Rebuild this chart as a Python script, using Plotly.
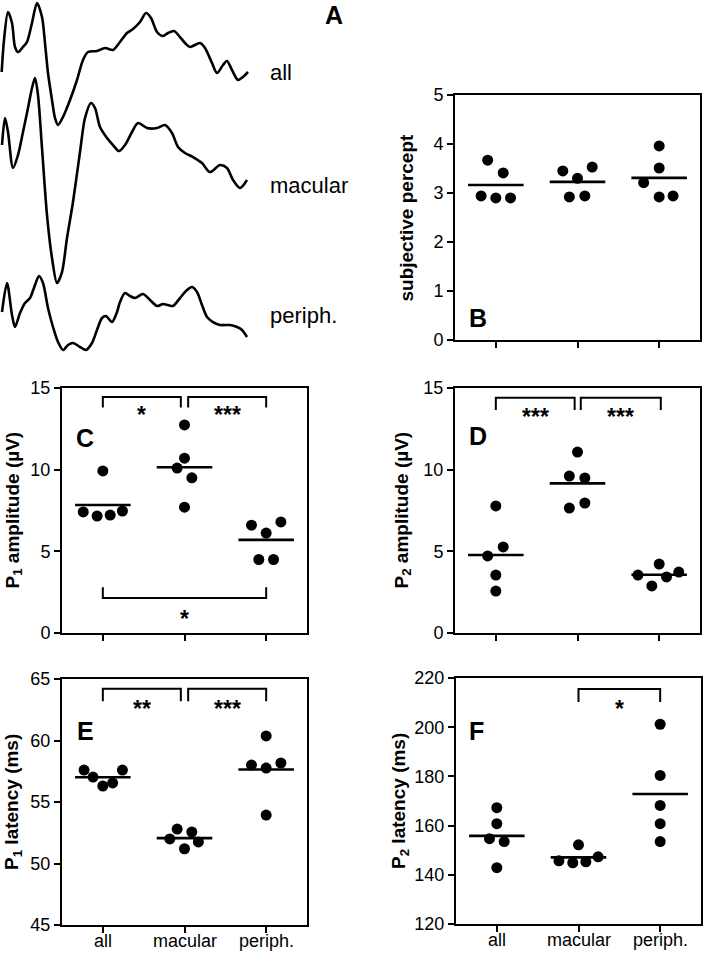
import numpy as np
import plotly.graph_objects as go

W, H = 703, 954
FONT = "Liberation Sans, Arial, sans-serif"

# ---------------- Panel A: averaged waveforms (time in ms, amplitude in µV) ----------------
all_t = [2.7, 6.4, 12.8, 19.2, 24, 28.8, 36.8, 43.2, 51.2, 59.2, 67.2, 72, 76.8, 83.2, 88, 92.8,
         100.8, 112, 123.2, 132.8, 140.8, 155.2, 168, 180.8, 192, 203.2, 212.8, 224, 233.6, 241.6,
         251.2, 260.8, 268.8, 278.4, 288, 296, 304, 320, 328, 339.2, 347.2, 356.8, 363.2, 371.2,
         380.8, 388.8, 396.8]
all_v = [0.0, 5.33, 10.0, 8.17, 4.17, 3.33, 4.17, 5.0, 8.17, 11.5, 9.17, 4.83, -0.17, -4.67, -7.67,
         -8.83, -7.5, -4.67, -1.33, 2.0, 3.33, 3.5, 4.0, 3.67, 5.0, 6.5, 7.17, 8.33, 9.83, 9.0, 6.67,
         6.0, 6.5, 6.83, 5.83, 4.83, 4.17, 4.83, 4.0, 1.5, -0.17, 1.17, 1.83, 0.33, -1.33, -0.83, 0.0]

mac_t = [3.2, 8, 12.8, 20.8, 28.8, 36.8, 44.8, 51.2, 56, 60.8, 67.2, 75.2, 83.2, 91.2, 99.2, 107.2,
         116.8, 128, 136, 145.6, 152, 160, 171.2, 180.8, 190.4, 200, 211.2, 220.8, 235.2, 251.2, 264,
         275.2, 284.8, 296, 308.8, 323.2, 336, 352, 363.2, 372.8, 384, 395.2]
mac_v = [0.0, 4.5, 2.17, -3.83, -1.67, 2.17, 6.17, 9.5, 11.17, 8.33, -0.5, -11.67, -18.83, -23.0,
         -21.17, -15.5, -9.5, -1.17, 4.5, 7.0, 6.17, 3.0, 1.17, 0.0, -1.0, 0.0, 2.17, 3.67, 2.83, 2.83,
         3.33, 2.0, -0.33, -1.33, -2.0, -3.0, -4.5, -3.33, -3.83, -5.83, -7.17, -5.83]

per_t = [3.2, 11.2, 19.2, 24, 32, 40, 48, 56, 62.4, 68.8, 76.8, 84.8, 92.8, 100.8, 108.8, 116.8, 128,
         137.6, 147.2, 155.2, 163.2, 169.6, 179.2, 187.2, 192, 200, 208, 216, 228.8, 240, 251.2,
         260.8, 268.8, 276.8, 288, 299.2, 307.2, 315.2, 323.2, 331.2, 340.8, 352, 368, 379.2, 387.2,
         395.2]
per_v = [0.0, 4.83, -0.5, -2.5, -0.17, 1.5, 2.33, 4.5, 6.0, 4.83, 0.67, -2.5, -5.0, -6.33, -5.5,
         -5.17, -5.83, -6.33, -5.17, -3.0, -1.0, -0.67, -1.67, 0.0, 1.67, 3.17, 2.67, 2.33, 3.0, 2.0,
         1.0, 1.33, 1.17, 1.0, 2.33, 3.67, 4.17, 3.33, 1.17, -0.83, -1.67, -2.17, -2.17, -2.5, -3.0,
         -4.17]

wave_names = ["all", "macular", "periph."]

# ---------------- Panels B–F: individual subjects ----------------
categories = ["all", "macular", "periph."]

percept_all = [3.67, 3.41, 2.94, 2.90, 2.90]
percept_mac = [3.45, 3.30, 3.53, 2.92, 2.94]
percept_per = [3.96, 3.51, 3.21, 2.92, 2.94]

p1amp_all = [9.92, 7.41, 7.16, 7.22, 7.47]
p1amp_mac = [12.74, 10.7, 10.1, 9.5, 7.7]
p1amp_per = [6.6, 6.12, 6.8, 4.5, 4.5]

p2amp_all = [7.78, 5.27, 4.72, 3.55, 2.57]
p2amp_mac = [11.08, 9.61, 9.49, 7.65, 7.96]
p2amp_per = [4.22, 3.55, 3.43, 3.73, 2.88]

p1lat_all = [57.6, 57.03, 56.3, 56.55, 57.6]
p1lat_mac = [52.8, 52.56, 52.0, 51.2, 51.75]
p1lat_per = [60.37, 58.0, 57.76, 58.17, 53.94]

p2lat_all = [167.3, 160.8, 154.7, 153.5, 142.9]
p2lat_mac = [152.2, 145.7, 144.9, 145.3, 147.3]
p2lat_per = [201.2, 180.4, 168.2, 160.8, 153.5]

# horizontal spread of overlapping dots (category units)
spread_B = [[-0.1, 0.09, -0.18, 0, 0.18], [-0.18, 0, 0.18, -0.1, 0.09], [0, 0, -0.19, 0, 0.17]]
spread_C = [[0, -0.24, -0.07, 0.09, 0.24], [0, 0, -0.09, 0.09, 0], [-0.18, 0, 0.18, -0.09, 0.09]]
spread_D = [[0, 0.09, -0.1, 0, 0], [0, -0.1, 0.09, -0.1, 0.09], [0, -0.26, 0.09, 0.24, -0.09]]
spread_E = [[-0.23, -0.12, 0, 0.12, 0.24], [-0.09, 0.09, -0.18, 0, 0.17], [0, -0.18, 0, 0.18, 0]]
spread_F = [[0, 0, -0.09, 0.09, 0], [0, -0.24, -0.07, 0.09, 0.24], [0, 0, 0, 0, 0]]

# significance brackets: (from cat, to cat, bar y, tick end y, label)
sig_C = [(0, 0.955, 14.45, 13.8, "*"), (1.045, 2, 14.45, 13.8, "***"), (0, 2, 2.14, 2.8, "*")]
sig_D = [(0, 0.965, 14.4, 13.65, "***"), (1.04, 2.02, 14.4, 13.65, "***")]
sig_E = [(0, 0.955, 64.2, 63.2, "**"), (1.045, 2, 64.2, 63.2, "***")]
sig_F = [(1, 2, 215.5, 210.2, "*")]

fig = go.Figure()

# ---- helpers for pixel layout ----
def fx(p):
    return p / W

def fy(p):
    return 1 - p / H

# ---- Panel A ----
wave_offsets = [-12, -24.17, -52]
for (t, v), off in zip([(all_t, all_v), (mac_t, mac_v), (per_t, per_v)], wave_offsets):
    fig.add_trace(go.Scatter(x=t, y=[off + a for a in v], mode="lines",
                             line=dict(color="black", width=2.6, shape="spline", smoothing=0.8),
                             xaxis="x", yaxis="y", showlegend=False, hoverinfo="skip",
                             cliponaxis=False))

# ---- dot panels ----
panels = [
    dict(ax=2, data=[percept_all, percept_mac, percept_per], spread=spread_B, sig=[],
         rng=[0, 5], ticks=[0, 1, 2, 3, 4, 5], dom=((455, 700), (95, 340)), xlabels=False,
         title="<b>subjective percept</b>", tx=406, letter="B", lpos=(478, 318)),
    dict(ax=3, data=[p1amp_all, p1amp_mac, p1amp_per], spread=spread_C, sig=sig_C,
         rng=[0, 15], ticks=[0, 5, 10, 15], dom=((62, 307), (388, 633)), xlabels=False,
         title="<b>P<sub>1</sub> amplitude (µV)</b>", tx=13, letter="C", lpos=(85, 438)),
    dict(ax=4, data=[p2amp_all, p2amp_mac, p2amp_per], spread=spread_D, sig=sig_D,
         rng=[0, 15], ticks=[0, 5, 10, 15], dom=((455, 700), (388, 633)), xlabels=False,
         title="<b>P<sub>2</sub> amplitude (µV)</b>", tx=402, letter="D", lpos=(478, 436)),
    dict(ax=5, data=[p1lat_all, p1lat_mac, p1lat_per], spread=spread_E, sig=sig_E,
         rng=[45, 65], ticks=[45, 50, 55, 60, 65], dom=((62, 307), (679, 925)), xlabels=True,
         title="<b>P<sub>1</sub> latency (ms)</b>", tx=13, letter="E", lpos=(85, 731)),
    dict(ax=6, data=[p2lat_all, p2lat_mac, p2lat_per], spread=spread_F, sig=sig_F,
         rng=[120, 220], ticks=[120, 140, 160, 180, 200, 220], dom=((456, 701), (678, 924)),
         xlabels=True, title="<b>P<sub>2</sub> latency (ms)</b>", tx=400, letter="F",
         lpos=(476, 731)),
]

annotations = []
layout_axes = {}

for p in panels:
    n = p["ax"]
    xa, ya = f"x{n}", f"y{n}"
    # dots
    for ci, (vals, spr) in enumerate(zip(p["data"], p["spread"])):
        fig.add_trace(go.Scatter(x=[ci + s for s in spr], y=vals, mode="markers",
                                 marker=dict(color="black", size=11),
                                 xaxis=xa, yaxis=ya, showlegend=False, cliponaxis=False))
    # mean lines
    mx, my = [], []
    for ci, vals in enumerate(p["data"]):
        m = float(np.mean(vals))
        mx += [ci - 0.34, ci + 0.34, None]
        my += [m, m, None]
    fig.add_trace(go.Scatter(x=mx, y=my, mode="lines", line=dict(color="black", width=2.6),
                             xaxis=xa, yaxis=ya, showlegend=False, cliponaxis=False))
    # significance brackets
    for (a, b, yb, yt, lab) in p["sig"]:
        fig.add_trace(go.Scatter(x=[a, a, b, b], y=[yt, yb, yb, yt], mode="lines",
                                 line=dict(color="black", width=2),
                                 xaxis=xa, yaxis=ya, showlegend=False, cliponaxis=False))
        lo, hi = p["rng"]
        span = hi - lo
        if yt < yb:  # bracket opening downward -> label beneath the bar
            ylab = yt - 0.03 * span
        else:
            ylab = yb - 0.085 * span
        annotations.append(dict(x=(a + b) / 2, y=ylab, xref=xa, yref=ya, text=f"<b>{lab}</b>",
                                showarrow=False, font=dict(family=FONT, size=23, color="black"),
                                xanchor="center", yanchor="middle"))
    (x0, x1), (y0, y1) = p["dom"]
    axis_common = dict(showline=True, linewidth=2, linecolor="black", mirror=True,
                       showgrid=False, zeroline=False, ticks="outside", ticklen=6, tickwidth=2,
                       tickcolor="black", automargin=False,
                       tickfont=dict(family=FONT, size=18, color="black"))
    layout_axes[f"xaxis{n}"] = dict(axis_common, domain=[fx(x0), fx(x1)], range=[-0.5, 2.5],
                                    tickvals=[0, 1, 2], showticklabels=False, anchor=ya)
    layout_axes[f"yaxis{n}"] = dict(axis_common, domain=[fy(y1), fy(y0)], range=p["rng"],
                                    tickvals=p["ticks"], anchor=xa)
    if p["xlabels"]:
        # category labels set just beneath the tick marks
        for ci, cat in enumerate(categories):
            annotations.append(dict(x=ci, y=fy(y1 + 4), xref=xa, yref="paper", text=cat,
                                    showarrow=False,
                                    font=dict(family=FONT, size=18, color="black"),
                                    xanchor="center", yanchor="top"))
    annotations.append(dict(x=fx(p["tx"]), y=fy((y0 + y1) / 2), xref="paper", yref="paper",
                            text=p["title"], textangle=-90, showarrow=False,
                            font=dict(family=FONT, size=19, color="black"),
                            xanchor="center", yanchor="middle"))
    annotations.append(dict(x=fx(p["lpos"][0]), y=fy(p["lpos"][1]), xref="paper", yref="paper",
                            text=f"<b>{p['letter']}</b>", showarrow=False,
                            font=dict(family=FONT, size=25, color="black"),
                            xanchor="center", yanchor="middle"))

# Panel A labels
for name, ypx in zip(wave_names, [73, 185, 315]):
    annotations.append(dict(x=fx(268), y=fy(ypx), xref="paper", yref="paper", text=name,
                            showarrow=False, font=dict(family=FONT, size=22, color="black"),
                            xanchor="left", yanchor="middle"))
annotations.append(dict(x=fx(334), y=fy(15), xref="paper", yref="paper", text="<b>A</b>",
                        showarrow=False, font=dict(family=FONT, size=25, color="black"),
                        xanchor="center", yanchor="middle"))

fig.update_layout(
    width=W, height=H, margin=dict(l=0, r=0, t=0, b=0, autoexpand=False),
    paper_bgcolor="white", plot_bgcolor="white",
    font=dict(family=FONT, color="black"),
    showlegend=False,
    xaxis=dict(domain=[0, fx(250)], range=[0, 400], visible=False, anchor="y", automargin=False),
    yaxis=dict(domain=[fy(355), 1], range=[-355 / 6, 0], visible=False, anchor="x",
               automargin=False),
    annotations=annotations,
    **layout_axes,
)

fig.write_html("out.html", config={"displayModeBar": False},
               post_script="document.body.style.margin='0';"
                           "document.documentElement.style.overflow='hidden';"
                           "document.body.style.overflow='hidden';")
